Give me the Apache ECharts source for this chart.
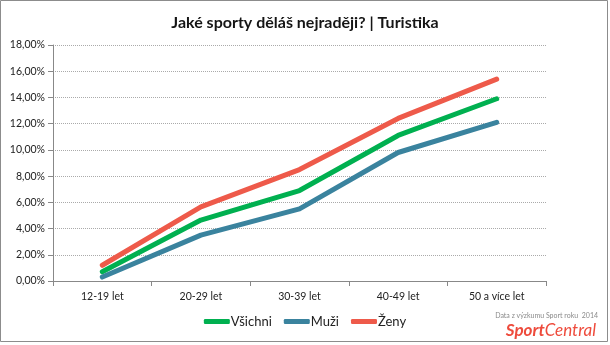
<!DOCTYPE html>
<html>
<head>
<meta charset="utf-8">
<script src="https://cdn.jsdelivr.net/npm/echarts@6/dist/echarts.min.js"></script>
<style>
html,body{margin:0;padding:0;background:#fff;}
#chart{width:610px;height:345px;}
</style>
</head>
<body>
<div id="chart"></div>
<script>
// Age groups on the x axis
const categories = ['12-19 let', '20-29 let', '30-39 let', '40-49 let', '50 a více let'];
// Share of respondents choosing hiking, in percent
const vsichni = [0.7, 4.65, 6.9, 11.1, 13.9];
const muzi = [0.3, 3.5, 5.5, 9.8, 12.1];
const zeny = [1.2, 5.65, 8.5, 12.4, 15.4];
const seriesNames = ['Všichni', 'Muži', 'Ženy'];
const colors = ['#00B050', '#3A839E', '#EE5A4A'];

const font = 'Lato, "Open Sans", sans-serif';
const chart = echarts.init(document.getElementById('chart'));

function lineSeries(name, data, color) {
  return {
    name: name,
    type: 'line',
    data: data,
    symbol: 'none',
    lineStyle: { width: 5, color: color, cap: 'round', join: 'round' },
    itemStyle: { color: color },
    emphasis: { disabled: true },
    animation: false
  };
}

chart.setOption({
  animation: false,
  title: {
    text: 'Jaké sporty děláš nejraději? | Turistika',
    left: 'center',
    top: 10,
    textStyle: { fontFamily: font, fontSize: 16, fontWeight: 'bold', color: '#151515' }
  },
  legend: {
    bottom: 12,
    left: 'center',
    itemWidth: 26,
    itemHeight: 5,
    itemGap: 12,
    icon: 'roundRect',
    textStyle: { fontFamily: font, fontSize: 13, color: '#222', padding: [0, 0, 0, -4] },
    data: seriesNames
  },
  grid: { left: 53, right: 64, top: 45, bottom: 64 },
  xAxis: {
    type: 'category',
    data: categories,
    boundaryGap: true,
    axisLine: { lineStyle: { color: '#888' } },
    axisTick: { show: true, length: 5, lineStyle: { color: '#888' } },
    axisLabel: { fontFamily: font, fontSize: 10.5, color: '#222', margin: 10 },
    splitLine: { show: false }
  },
  yAxis: {
    type: 'value',
    min: 0,
    max: 18,
    interval: 2,
    axisLine: { show: true, lineStyle: { color: '#888' } },
    axisTick: { show: true, length: 5, inside: false, lineStyle: { color: '#888' } },
    axisLabel: {
      fontFamily: font, fontSize: 10.5, color: '#222', margin: 8,
      formatter: v => v.toFixed(2).replace('.', ',') + '%'
    },
    splitLine: { show: true, lineStyle: { color: '#aaa', type: [1, 1], width: 1 } }
  },
  series: [
    lineSeries(seriesNames[0], vsichni, colors[0]),
    lineSeries(seriesNames[1], muzi, colors[1]),
    lineSeries(seriesNames[2], zeny, colors[2])
  ],
  graphic: [
    {
      type: 'rect',
      shape: { x: 0.5, y: 0.5, width: 607, height: 341 },
      style: { fill: 'none', stroke: '#8c8c8c', lineWidth: 1 },
      silent: true
    },
    {
      type: 'text',
      right: 12,
      top: 312,
      style: {
        text: 'Data z výzkumu Sport roku  2014',
        fontFamily: font, fontSize: 7, fill: '#8a8a8a'
      }
    },
    {
      type: 'text',
      right: 14,
      top: 322,
      style: {
        text: '{a|Sport}{b|Central}',
        rich: {
          a: { fontFamily: font, fontSize: 17, fontWeight: 'bold', fontStyle: 'italic', fill: '#EE4B3C' },
          b: { fontFamily: font, fontSize: 17, fontStyle: 'italic', fill: '#EE4B3C' }
        }
      }
    }
  ]
});
</script>
</body>
</html>
